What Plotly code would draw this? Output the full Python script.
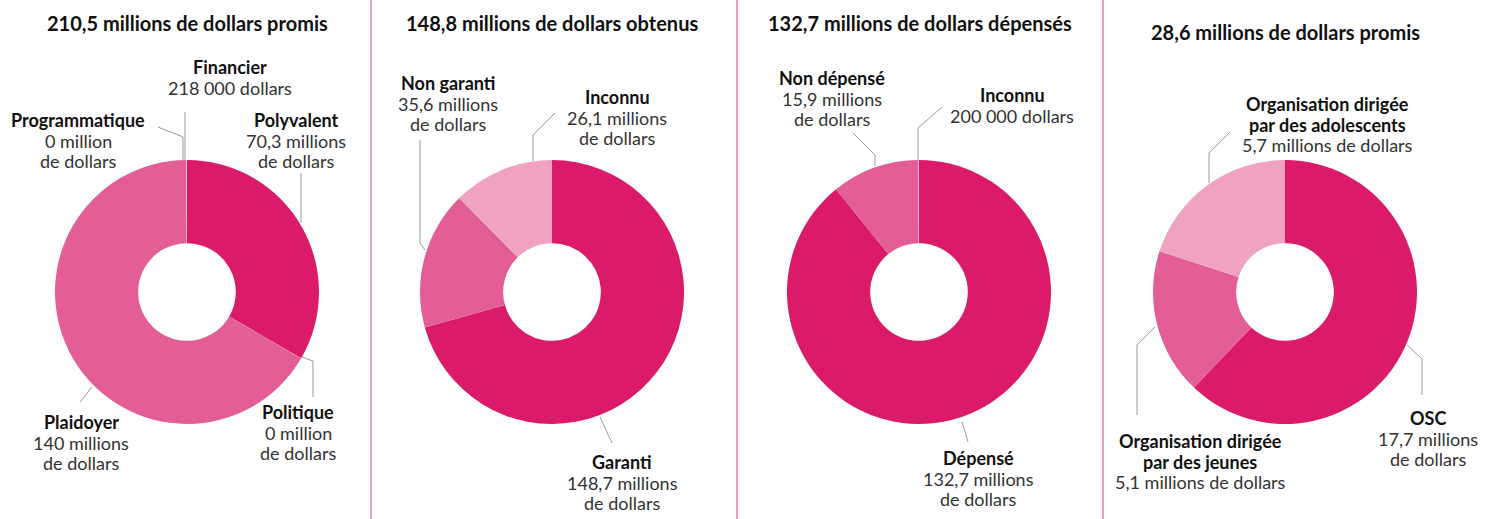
import plotly.graph_objects as go

W, H = 1494, 519
DARK = "#DC1A6A"
MED = "#E45E96"
LIGHT = "#EFA3C1"
PALE = "#F4C3D8"
SEP = "#E0609A"
LEAD = "#9A9A9A"
FONT = "Lato"

# ---------------- data ----------------
titles = [
    "210,5 millions de dollars promis",
    "148,8 millions de dollars obtenus",
    "132,7 millions de dollars dépensés",
    "28,6 millions de dollars promis",
]

c1_labels = ["Polyvalent", "Politique", "Plaidoyer", "Programmatique", "Financier"]
c1_values = [70.3, 0.04, 140.0, 0.04, 0.218]
c1_colors = [DARK, PALE, MED, PALE, PALE]

c2_labels = ["Garanti", "Non garanti", "Inconnu"]
c2_values = [148.7, 35.6, 26.1]
c2_colors = [DARK, MED, LIGHT]

c3_labels = ["Dépensé", "Non dépensé", "Inconnu"]
c3_values = [132.7, 15.9, 0.2]
c3_colors = [DARK, MED, PALE]

c4_labels = ["OSC", "Organisation dirigée par des jeunes", "Organisation dirigée par des adolescents"]
c4_values = [17.7, 5.1, 5.7]
c4_colors = [DARK, MED, LIGHT]

# ---------------- layout helpers ----------------
def px(x):
    return x / W

def py(y):
    return (H - y) / H

def domain(cx, cy, r):
    return dict(x=[px(cx - r), px(cx + r)], y=[py(cy + r), py(cy - r)])

centers = [(187, 292), (552, 292), (919, 292), (1285, 292)]
R = 132

fig = go.Figure()
for (labels, values, colors), (cx, cy) in zip(
    [(c1_labels, c1_values, c1_colors), (c2_labels, c2_values, c2_colors),
     (c3_labels, c3_values, c3_colors), (c4_labels, c4_values, c4_colors)],
    centers,
):
    fig.add_trace(go.Pie(
        labels=labels, values=values, sort=False, direction="clockwise", rotation=0,
        hole=0.37, textinfo="none", hoverinfo="label+value",
        marker=dict(colors=colors, line=dict(width=0)),
        domain=domain(cx, cy, R), showlegend=False,
    ))

annotations = []
LH = 20.7
FS = 18

def line(x, y, text, bold):
    annotations.append(dict(
        x=px(x), y=py(y), xref="paper", yref="paper", xanchor="center", yanchor="middle",
        text=f"<b>{text}</b>" if bold else text, showarrow=False,
        font=dict(family=FONT, size=FS, color="#111111" if bold else "#333333"),
    ))

def label(x, y_first, bold, regular):
    y = y_first
    for b in bold:
        line(x, y, b, True)
        y += LH
    for r in regular:
        line(x, y, r, False)
        y += LH

# titles
title_pos = [(187, 23), (552, 23), (920, 23), (1285, 32)]
for t, (x, y) in zip(titles, title_pos):
    annotations.append(dict(
        x=px(x), y=py(y), xref="paper", yref="paper", xanchor="center", yanchor="middle",
        text=f"<b>{t}</b>", showarrow=False, font=dict(family=FONT, size=20, color="#111111"),
    ))

# chart 1 labels
label(230, 67, ["Financier"], ["218 000 dollars"])
label(78, 120, ["Programmatique"], ["0 million", "de dollars"])
label(296, 120, ["Polyvalent"], ["70,3 millions", "de dollars"])
label(298, 412, ["Politique"], ["0 million", "de dollars"])
label(81, 422, ["Plaidoyer"], ["140 millions", "de dollars"])
# chart 2
label(448, 83, ["Non garanti"], ["35,6 millions", "de dollars"])
label(617, 97, ["Inconnu"], ["26,1 millions", "de dollars"])
label(622, 462, ["Garanti"], ["148,7 millions", "de dollars"])
# chart 3
label(832, 78, ["Non dépensé"], ["15,9 millions", "de dollars"])
label(1012, 95, ["Inconnu"], ["200 000 dollars"])
label(978, 458, ["Dépensé"], ["132,7 millions", "de dollars"])
# chart 4
label(1327, 104, ["Organisation dirigée", "par des adolescents"], ["5,7 millions de dollars"])
label(1428, 418, ["OSC"], ["17,7 millions", "de dollars"])
label(1200, 441, ["Organisation dirigée", "par des jeunes"], ["5,1 millions de dollars"])

# leader lines (pixel paths)
leaders = [
    [(185, 112), (185, 161)],
    [(158, 127), (183, 137), (183, 161)],
    [(301, 173), (301, 223)],
    [(302, 357), (313, 361), (313, 397)],
    [(92, 387), (80, 402)],
    [(420, 140), (420, 243), (425, 250)],
    [(555, 113), (533, 135), (533, 161)],
    [(600, 417), (612, 443)],
    [(853, 133), (875, 155), (875, 166)],
    [(942, 107), (918, 128), (918, 161)],
    [(962, 422), (968, 442)],
    [(1230, 132), (1209, 153), (1209, 183)],
    [(1407, 345), (1422, 359), (1422, 395)],
    [(1155, 327), (1137, 345), (1137, 415)],
]
shapes = []
for pts in leaders:
    path = "M " + " L ".join(f"{px(x):.5f},{py(y):.5f}" for x, y in pts)
    shapes.append(dict(type="path", path=path, xref="paper", yref="paper",
                       line=dict(color=LEAD, width=1)))

for sx in [371, 737, 1103]:
    shapes.append(dict(type="line", x0=px(sx), x1=px(sx), y0=0, y1=1, xref="paper", yref="paper",
                       line=dict(color=SEP, width=1.2)))

fig.update_layout(
    width=W, height=H, margin=dict(l=0, r=0, t=0, b=0),
    paper_bgcolor="white", plot_bgcolor="white",
    annotations=annotations, shapes=shapes,
    font=dict(family=FONT),
)

fig.write_html(
    "out.html",
    config={"displayModeBar": False},
    post_script="document.body.style.margin='0px';document.body.style.overflow='hidden';",
)
